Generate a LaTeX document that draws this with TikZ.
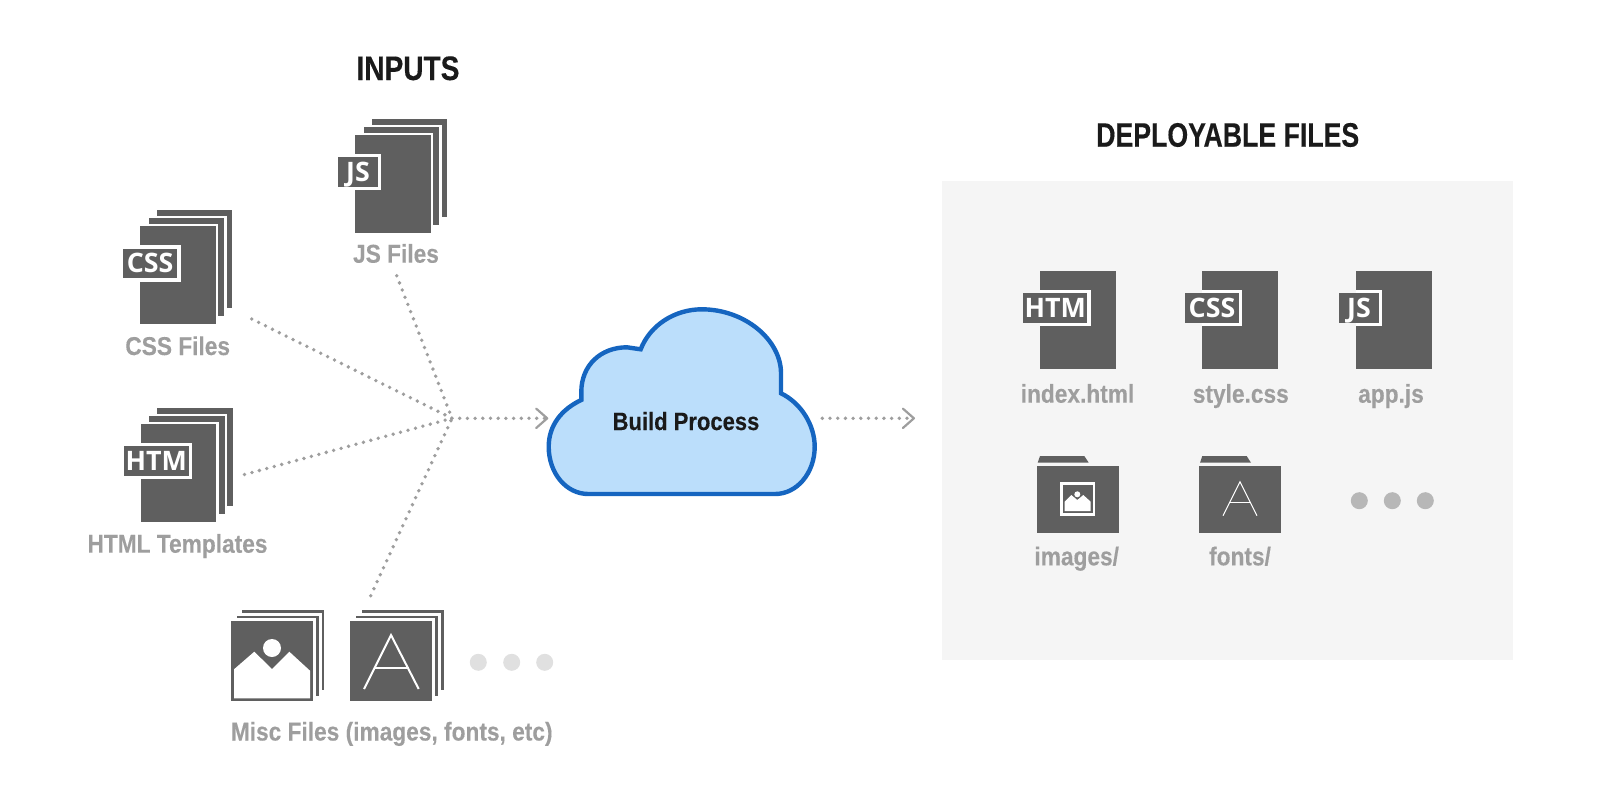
\documentclass[tikz,border=0pt]{standalone}
\usepackage{fontspec}
\usetikzlibrary{arrows.meta}
\setmainfont{Liberation Sans}
\newfontfamily\labelface[FakeStretch=0.88,FakeBold=0.25]{Liberation Sans Bold}
\newfontfamily\buildface[FakeStretch=0.88,FakeBold=0.25]{Liberation Sans Bold}
\newfontfamily\titleface[FakeStretch=0.825,FakeBold=0.3]{Liberation Sans Bold}
\newfontfamily\deployface[FakeStretch=0.785,FakeBold=0.3]{Liberation Sans Bold}
\newfontfamily\badgeface{Open Sans Bold}
\definecolor{icon}{HTML}{5F5F5F}
\definecolor{soft}{HTML}{9E9E9E}
\definecolor{ink}{HTML}{1A1A1A}
\definecolor{panel}{HTML}{F5F5F5}
\definecolor{cloudfill}{HTML}{BBDEFB}
\definecolor{cloudline}{HTML}{1565C0}
\definecolor{dotlight}{HTML}{E0E0E0}
\definecolor{dotmid}{HTML}{B7B7B7}
\tikzset{
  titletext/.style={anchor=base,inner sep=0pt,text=ink,font=\titleface\fontsize{17}{20}\selectfont},
  deploytext/.style={anchor=base,inner sep=0pt,text=ink,font=\deployface\fontsize{17}{20}\selectfont},
  buildtext/.style={anchor=base,inner sep=0pt,text=ink,font=\buildface\fontsize{12.5}{15}\selectfont},
  labeltext/.style={anchor=base,inner sep=0pt,text=soft,font=\labelface\fontsize{12.9}{15}\selectfont},
  badgetext/.style={anchor=base,inner sep=0pt,text=white,font=\badgeface\fontsize{13.4}{15}\selectfont},
  dotted link/.style={draw=soft,line width=1.9pt,line cap=round,dash pattern=on 0pt off 3.85pt},
  arrow link/.style={dotted link,-{Straight Barb[length=5.5pt,width=9.7pt,line width=1.1pt,round]}},
  sheet/.style={fill=icon,draw=none},
  gap/.style={fill=white,draw=none},
}
% page with badge: #1 name, #2 x, #3 y, #4 badge right offset, #5 text
\newcommand\PageIcon[5]{%
  \begin{scope}[shift={(#2,#3)}]
    \fill[sheet] (0,0) rectangle (75.7,97.7);
    \fill[gap] (0,18.6) rectangle (#4+3.7,55.4);
    \fill[sheet] (-16.7,22.3) rectangle (#4,51.6);
    \node[badgetext] (#1) at ({(#4-16.7)/2},46.6) {#5};
  \end{scope}}
% stack of three pages behind a badge
\newcommand\StackPages[2]{%
  \begin{scope}[shift={(#1,#2)}]
    \fill[sheet] (16.7,-16) rectangle (92.4,81.7);
    \fill[gap] (6.3,-10.4) rectangle (86.8,92.1);
    \fill[sheet] (8.7,-8) rectangle (84.4,89.7);
    \fill[gap] (-2.4,-2.4) rectangle (78.1,100.1);
  \end{scope}}
% stack of three square cards
\newcommand\StackCards[2]{%
  \begin{scope}[shift={(#1,#2)}]
    \fill[sheet] (11.3,-11.2) rectangle (93.3,68.8);
    \fill[gap] (2.7,-8.6) rectangle (90.7,77.4);
    \fill[sheet] (5.7,-5.6) rectangle (87.7,74.4);
    \fill[gap] (-3,-3) rectangle (85,83);
    \fill[sheet] (0,0) rectangle (82,80);
  \end{scope}}
% folder: #1 x (left of the body)
\newcommand\FolderIcon[1]{%
  \begin{scope}[shift={(#1,0)}]
    \fill[sheet] (1,462.7) -- (3.3,456) -- (47.6,456) -- (52,462.7) -- cycle;
    \fill[sheet] (0,466.3) rectangle (82.3,532.7);
  \end{scope}}
\begin{document}
\begin{tikzpicture}[x=0.5pt,y=-0.5pt]
\useasboundingbox (0,0) rectangle (1600,793);

\fill[panel] (942,180.7) rectangle (1513,660);

% titles
\node[titletext] (inputs) at (408,80) {INPUTS};
\node[deploytext] (deploy) at (1227.7,146.7) {DEPLOYABLE FILES};

% JS stack
\StackPages{355}{135}
\PageIcon{jsbadge}{355}{135}{22.7}{JS}
\node[labeltext] (jslabel) at (396,262.7) {JS Files};
% CSS stack
\StackPages{140}{226.3}
\PageIcon{cssbadge}{140}{226.3}{37}{CSS}
\node[labeltext] (csslabel) at (177.7,355) {CSS Files};
% HTM stack
\StackPages{140.5}{424}
\PageIcon{htmbadge}{140.5}{424}{48.2}{HTM}
\node[labeltext] (htmllabel) at (177.5,552.7) {HTML Templates};

% misc cards
\StackCards{231}{621.3}
\fill[white] (234,698.3) -- (234,669.3) -- (254.3,651.7) -- (272,669) -- (289.3,651.7) -- (310,670.7) -- (310,698.3) -- cycle;
\fill[white] (272,648) circle (9);
\StackCards{350.3}{621.3}
\draw[white,line width=1pt] (364,689) -- (391,635) -- (418.7,689);
\draw[white,line width=1pt] (373.5,668.3) -- (409.2,668.3);
\fill[dotlight] (478.3,662.3) circle (8.5) (511.7,662.3) circle (8.5) (544.7,662.3) circle (8.5);
\node[labeltext] (misclabel) at (391.7,740.5) {Misc Files (images, fonts, etc)};

% connectors
\coordinate (hub) at (452,418.3);
\coordinate (cssout) at (251.7,319);
\coordinate (jsout) at (396.7,275.7);
\coordinate (htmlout) at (244.5,474.5);
\coordinate (miscout) at (370.7,595.7);
\coordinate (cloudin) at (548.3,418.3);
\coordinate (cloudout) at (822.3,418.3);
\coordinate (filesin) at (915,418.3);
\draw[dotted link] (cssout) -- (hub);
\draw[dotted link] (jsout) -- (hub);
\draw[dotted link] (htmlout) -- (hub);
\draw[dotted link] (miscout) -- (hub);
\draw[arrow link] (hub) -- (cloudin);
\draw[arrow link] (cloudout) -- (filesin);

% cloud
\draw[fill=cloudfill,draw=cloudline,line width=2.2pt]
  (581.3,400) -- (581.3,392)
  .. controls (581.3,365) and (601,347.3) .. (627,347.3)
  -- (640.7,349.3)
  .. controls (650,325) and (675,309.3) .. (701.7,309.3)
  .. controls (745,309.3) and (781,340) .. (781,373.3)
  -- (781,393.3)
  .. controls (801,403) and (814.7,425) .. (814.7,446.7)
  .. controls (814.7,473) and (797,494) .. (775,494)
  -- (588.3,494)
  .. controls (566,494) and (548.7,473) .. (548.7,446.7)
  .. controls (548.7,425) and (562,409) .. (581.3,400) -- cycle;
\node[buildtext] (build) at (686,430) {Build Process};

% deployable files
\PageIcon{htmfile}{1040}{271}{47.3}{HTM}
\node[labeltext] (indexlabel) at (1077.5,402.7) {index.html};
\PageIcon{cssfile}{1202}{271}{36.7}{CSS}
\node[labeltext] (stylelabel) at (1240.8,402.7) {style.css};
\PageIcon{jsfile}{1356}{271}{22.7}{JS}
\node[labeltext] (applabel) at (1391,402.7) {app.js};

\FolderIcon{1036.7}
\fill[white] (1060,481.7) rectangle (1095.3,515.7);
\fill[sheet] (1062.7,485) rectangle (1092.7,513.3);
\fill[white] (1064.7,511) -- (1064.7,501.7) -- (1071.3,495) -- (1077.3,500) -- (1083.3,495) -- (1090.7,501.7) -- (1090.7,511) -- cycle;
\fill[white] (1077.3,494.3) circle (3);
\node[labeltext] (imageslabel) at (1076.7,565.3) {images/};

\FolderIcon{1199}
\draw[white,line width=0.5pt] (1223,515.7) -- (1240,481.7) -- (1257,515.7);
\draw[white,line width=0.5pt] (1229.5,502.3) -- (1250.5,502.3);
\node[labeltext] (fontslabel) at (1240,565.3) {fonts/};

\fill[dotmid] (1359.3,500.7) circle (8.5) (1392.3,500.7) circle (8.5) (1425.3,500.7) circle (8.5);
\end{tikzpicture}
\end{document}
